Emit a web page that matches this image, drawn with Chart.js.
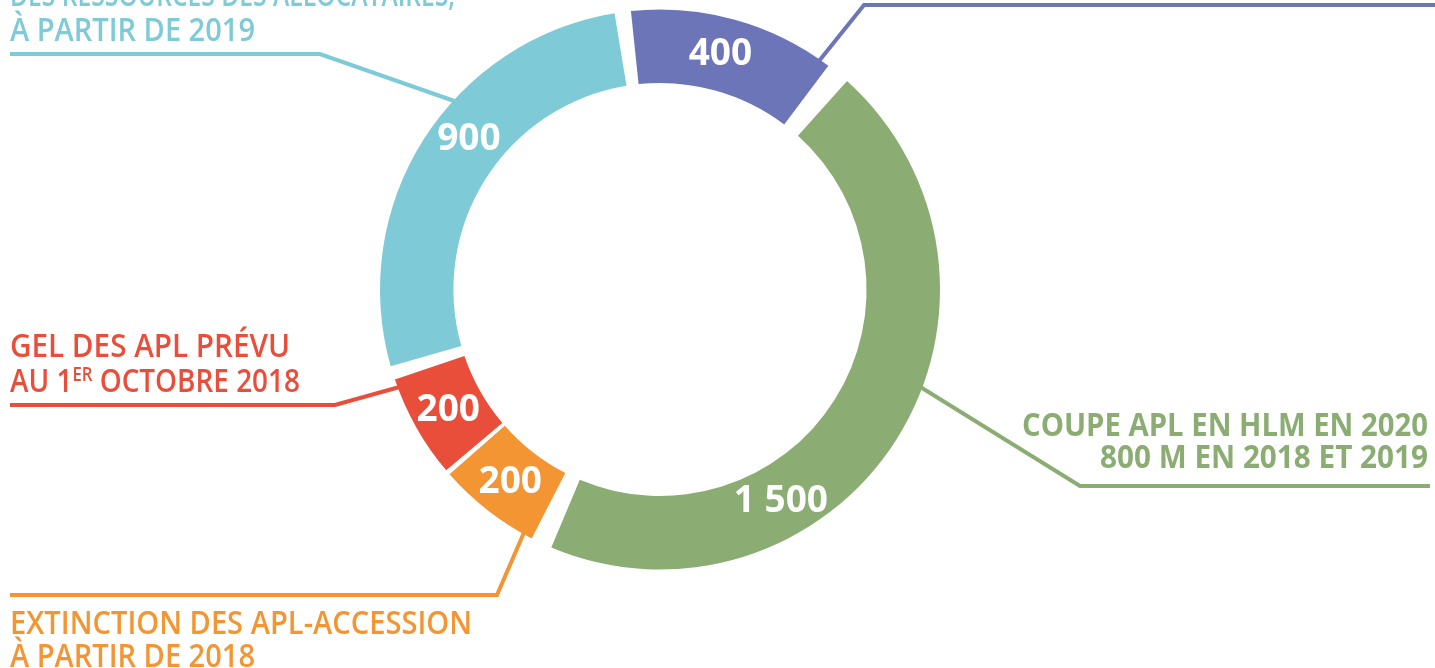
<!DOCTYPE html>
<html lang="fr">
<head>
<meta charset="utf-8">
<title>Baisses des APL</title>
<script src="https://cdn.jsdelivr.net/npm/chart.js@4.4.1/dist/chart.umd.min.js"></script>
<style>
  html, body { margin: 0; padding: 0; background: #fff; }
  #wrap { width: 1435px; height: 668px; position: relative; overflow: hidden; }
</style>
</head>
<body>
<div id="wrap"><canvas id="aplChart" width="1435" height="668"></canvas></div>
<script>
// montants en millions d'euros, dans le sens des aiguilles d'une montre depuis le haut
const montants = [400, 1500, 200, 200, 900];
const couleurs = ['#6c75b8', '#8bad73', '#f39533', '#e94e3b', '#7ecad6'];
// libellés visibles ({..} = exposant)
const libelles = [
  [],
  ['COUPE APL EN HLM EN 2020', '800 M EN 2018 ET 2019'],
  ['EXTINCTION DES APL-ACCESSION', 'À PARTIR DE 2018'],
  ['GEL DES APL PRÉVU', 'AU 1{ER} OCTOBRE 2018'],
  ['DES RESSOURCES DES ALLOCATAIRES,', 'À PARTIR DE 2019']
];

const FONT = '"Open Sans", "Noto Sans", sans-serif';
const ESPACE = 22; // écart entre les parts
// Chart.js dessine l'arc décalé de spacing/2 vers l'extérieur
const DECALAGE = ESPACE / 2;

// format "1 500"
function formatMontant(v) {
  return String(v).replace(/\B(?=(\d{3})+(?!\d))/g, ' ');
}

// point sur un arc à une fraction de son angle
function pointSurArc(arc, frac, r) {
  const a = arc.startAngle + (arc.endAngle - arc.startAngle) * frac;
  return { x: arc.x + Math.cos(a) * r, y: arc.y + Math.sin(a) * r };
}

// texte avec exposant, compressé à une largeur cible
function drawRich(ctx, line, x, y, size, weight, align, targetW) {
  const parts = [];
  line.split(/(\{[^}]*\})/).forEach(p => {
    if (!p) return;
    if (p[0] === '{') parts.push({ t: p.slice(1, -1), sup: true });
    else parts.push({ t: p, sup: false });
  });
  let w = 0;
  parts.forEach(p => {
    ctx.font = weight + ' ' + (p.sup ? size * 0.6 : size) + 'px ' + FONT;
    p.w = ctx.measureText(p.t).width;
    w += p.w;
  });
  const sx = targetW ? Math.min(1, targetW / w) : 1;
  ctx.save();
  ctx.translate(align === 'right' ? x - w * sx : x, y);
  ctx.scale(sx, 1);
  let cx = 0;
  parts.forEach(p => {
    ctx.font = weight + ' ' + (p.sup ? size * 0.6 : size) + 'px ' + FONT;
    ctx.fillText(p.t, cx, p.sup ? -size * 0.33 : 0);
    cx += p.w;
  });
  ctx.restore();
}

// lignes de rappel et textes
const annotations = {
  id: 'annotations',
  beforeDatasetsDraw(chart) {
    const ctx = chart.ctx;
    const arcs = chart.getDatasetMeta(0).data;
    const leaders = [
      { i: 0, frac: 0.93, path: [[1435, 5], [864, 5]] },
      { i: 1, frac: 0.43, path: [[1430, 486], [1080, 486]] },
      { i: 2, frac: 0.11, path: [[10, 595], [497, 595]] },
      { i: 3, frac: 0.9, path: [[10, 405], [335, 405]] },
      { i: 4, frac: 0.6, path: [[10, 54], [320, 54]] }
    ];
    ctx.save();
    ctx.lineWidth = 4;
    ctx.lineJoin = 'miter';
    leaders.forEach(l => {
      const arc = arcs[l.i];
      const p = pointSurArc(arc, l.frac, arc.outerRadius + DECALAGE - 1);
      ctx.strokeStyle = couleurs[l.i];
      ctx.beginPath();
      ctx.moveTo(l.path[0][0], l.path[0][1]);
      ctx.lineTo(l.path[1][0], l.path[1][1]);
      ctx.lineTo(p.x, p.y);
      ctx.stroke();
    });
    ctx.restore();
  },
  afterDatasetsDraw(chart) {
    const ctx = chart.ctx;
    const arcs = chart.getDatasetMeta(0).data;
    const labelFrac = [0.475, 0.665, 0.5, 0.5, 0.558];

    // valeurs dans l'anneau
    ctx.save();
    ctx.fillStyle = '#ffffff';
    ctx.font = 'bold 37px ' + FONT;
    ctx.textAlign = 'center';
    ctx.textBaseline = 'middle';
    arcs.forEach((arc, i) => {
      const r = (arc.outerRadius + arc.innerRadius) / 2 + DECALAGE;
      const p = pointSurArc(arc, labelFrac[i], r);
      ctx.fillText(formatMontant(montants[i]), p.x, p.y + 1);
    });
    ctx.restore();

    // libellés
    const blocs = [
      { i: 1, x: 1428, align: 'right', ys: [436, 468], weight: 700, widths: [406, 328] },
      { i: 2, x: 10, align: 'left', ys: [634, 667], weight: 600, widths: [462, 245] },
      { i: 3, x: 10, align: 'left', ys: [357, 392], weight: 600, widths: [280, 290] },
      { i: 4, x: 10, align: 'left', ys: [6, 41], weight: 600, widths: [445, 245] }
    ];
    ctx.save();
    ctx.textBaseline = 'alphabetic';
    ctx.textAlign = 'left';
    blocs.forEach(b => {
      ctx.fillStyle = couleurs[b.i];
      libelles[b.i].forEach((line, k) => {
        drawRich(ctx, line, b.x, b.ys[k], 32, b.weight, b.align, b.widths[k]);
      });
    });
    ctx.restore();
  }
};

// initialiser le graphique
const ctx = document.getElementById('aplChart').getContext('2d');
const aplChart = new Chart(ctx, {
  type: 'doughnut',
  data: {
    labels: libelles.map(l => l.join(' ')),
    datasets: [{
      data: montants,
      backgroundColor: couleurs,
      borderWidth: 0,
      spacing: ESPACE,
      hoverOffset: 0
    }]
  },
  options: {
    responsive: false,
    animation: false,
    rotation: -7,
    cutout: '72.7%',
    layout: {
      padding: { left: 380, right: 495, top: 9.5, bottom: 98.5 }
    },
    plugins: {
      legend: { display: false },
      tooltip: { enabled: false }
    }
  },
  plugins: [annotations]
});
</script>
</body>
</html>
